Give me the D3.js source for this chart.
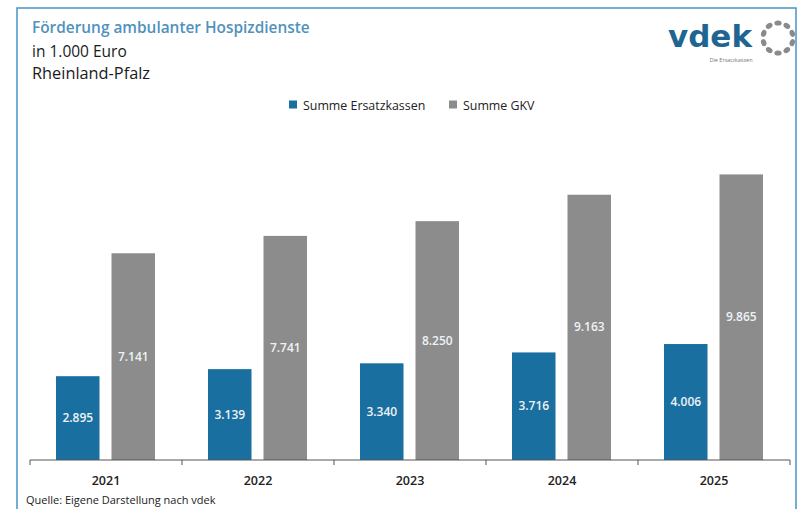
<!DOCTYPE html>
<html><head><meta charset="utf-8">
<script src="https://cdn.jsdelivr.net/npm/d3@7"></script>
<style>body{margin:0;background:#fff}svg{display:block}</style>
</head><body>
<svg id="c" width="800" height="509"></svg>
<script>
const years = ["2021","2022","2023","2024","2025"];
const seriesNames = ["Summe Ersatzkassen","Summe GKV"];
const ersatzkassen = [2895, 3139, 3340, 3716, 4006];
const gkv = [7141, 7741, 8250, 9163, 9865];
const colors = ["#1a6fa1","#8c8c8c"];

const svg = d3.select("#c");
const font = "'Open Sans', 'Noto Sans', sans-serif";
const fmt = v => d3.format(",")(v).replace(/,/g,".");

// frame
svg.append("rect").attr("x",17).attr("y",8).attr("width",779).attr("height",520)
  .attr("fill","none").attr("stroke","#4a93c6").attr("stroke-width",1.5);

// titles
svg.append("text").attr("x",32).attr("y",33).text("Förderung ambulanter Hospizdienste")
  .attr("font-family",font).attr("font-size",15.4).attr("font-weight",600).attr("fill","#4f92bd");
svg.append("text").attr("x",32).attr("y",57).text("in 1.000 Euro")
  .attr("font-family",font).attr("font-size",15.5).attr("font-weight",500).attr("fill","#1a1a1a");
svg.append("text").attr("x",32).attr("y",79).text("Rheinland-Pfalz")
  .attr("font-family",font).attr("font-size",15.5).attr("font-weight",500).attr("fill","#1a1a1a")
  .attr("textLength",118).attr("lengthAdjust","spacingAndGlyphs");

// logo
svg.append("text").attr("x",668).attr("y",47).text("vdek")
  .attr("font-family","'DejaVu Sans', sans-serif").attr("font-size",31).attr("font-weight",700)
  .attr("fill","#1f6593").attr("textLength",84).attr("lengthAdjust","spacingAndGlyphs");
svg.append("text").attr("x",731).attr("y",62).attr("text-anchor","middle").text("Die Ersatzkassen")
  .attr("font-family",font).attr("font-size",5.5).attr("fill","#777");
const dots = d3.range(10);
svg.append("g").attr("transform","translate(778,38)").selectAll("ellipse").data(dots).join("ellipse")
  .attr("cx",0).attr("cy",-15).attr("rx",3.6).attr("ry",2.6)
  .attr("transform",d=>`rotate(${d*36})`).attr("fill","#8a8a8a");

// scales
const x0 = d3.scaleBand().domain(years).range([30,790]);
const x1 = d3.scaleBand().domain(seriesNames).range([26,125]).paddingInner(0.216);
const y = d3.scaleLinear().domain([0,10000]).range([460,170.5]);

const data = years.map((yr,i)=>({year:yr, vals:[ersatzkassen[i], gkv[i]]}));

// legend
const lg = svg.append("g").attr("font-family",font).attr("font-size",12.4).attr("fill","#222");
const legPos = [289, 449];
seriesNames.forEach((s,i)=>{
  lg.append("rect").attr("x",legPos[i]).attr("y",100.5).attr("width",8).attr("height",8).attr("fill",colors[i]);
  lg.append("text").attr("x",legPos[i]+14).attr("y",110).text(s).attr("font-weight",500);
});

// bars
const g = svg.append("g");
const grp = g.selectAll("g.yr").data(data).join("g").attr("transform",d=>`translate(${x0(d.year)},0)`);
grp.selectAll("rect").data(d=>d.vals.map((v,i)=>({s:seriesNames[i],v,i}))).join("rect")
  .attr("x",d=>x1(d.s)).attr("width",x1.bandwidth())
  .attr("y",d=>y(d.v)).attr("height",d=>y(0)-y(d.v)).attr("fill",d=>colors[d.i]);
grp.selectAll("text").data(d=>d.vals.map((v,i)=>({s:seriesNames[i],v,i}))).join("text")
  .attr("x",d=>x1(d.s)+x1.bandwidth()/2).attr("y",d=>(y(d.v)+y(0))/2+4)
  .attr("text-anchor","middle").text(d=>fmt(d.v))
  .attr("font-family",font).attr("font-size",12).attr("font-weight",600).attr("fill","#eef2f5");

// axis
const ax = svg.append("g").attr("transform","translate(0,460)");
ax.append("line").attr("x1",30).attr("x2",790).attr("stroke","#555").attr("stroke-width",1);
const bounds = years.map(v=>x0(v)).concat([x0.range()[1]]);
ax.selectAll("line.t").data(bounds).join("line").attr("class","t")
  .attr("x1",d=>d).attr("x2",d=>d).attr("y1",0).attr("y2",5).attr("stroke","#555");
ax.selectAll("text").data(years).join("text")
  .attr("x",d=>x0(d)+x0.bandwidth()/2).attr("y",25).attr("text-anchor","middle").text(d=>d)
  .attr("font-family",font).attr("font-size",12.5).attr("font-weight",600).attr("fill","#222");

// source
svg.append("text").attr("x",26).attr("y",504).text("Quelle: Eigene Darstellung nach vdek")
  .attr("font-family",font).attr("font-size",11).attr("font-weight",500).attr("fill","#222");
</script>
</body></html>
